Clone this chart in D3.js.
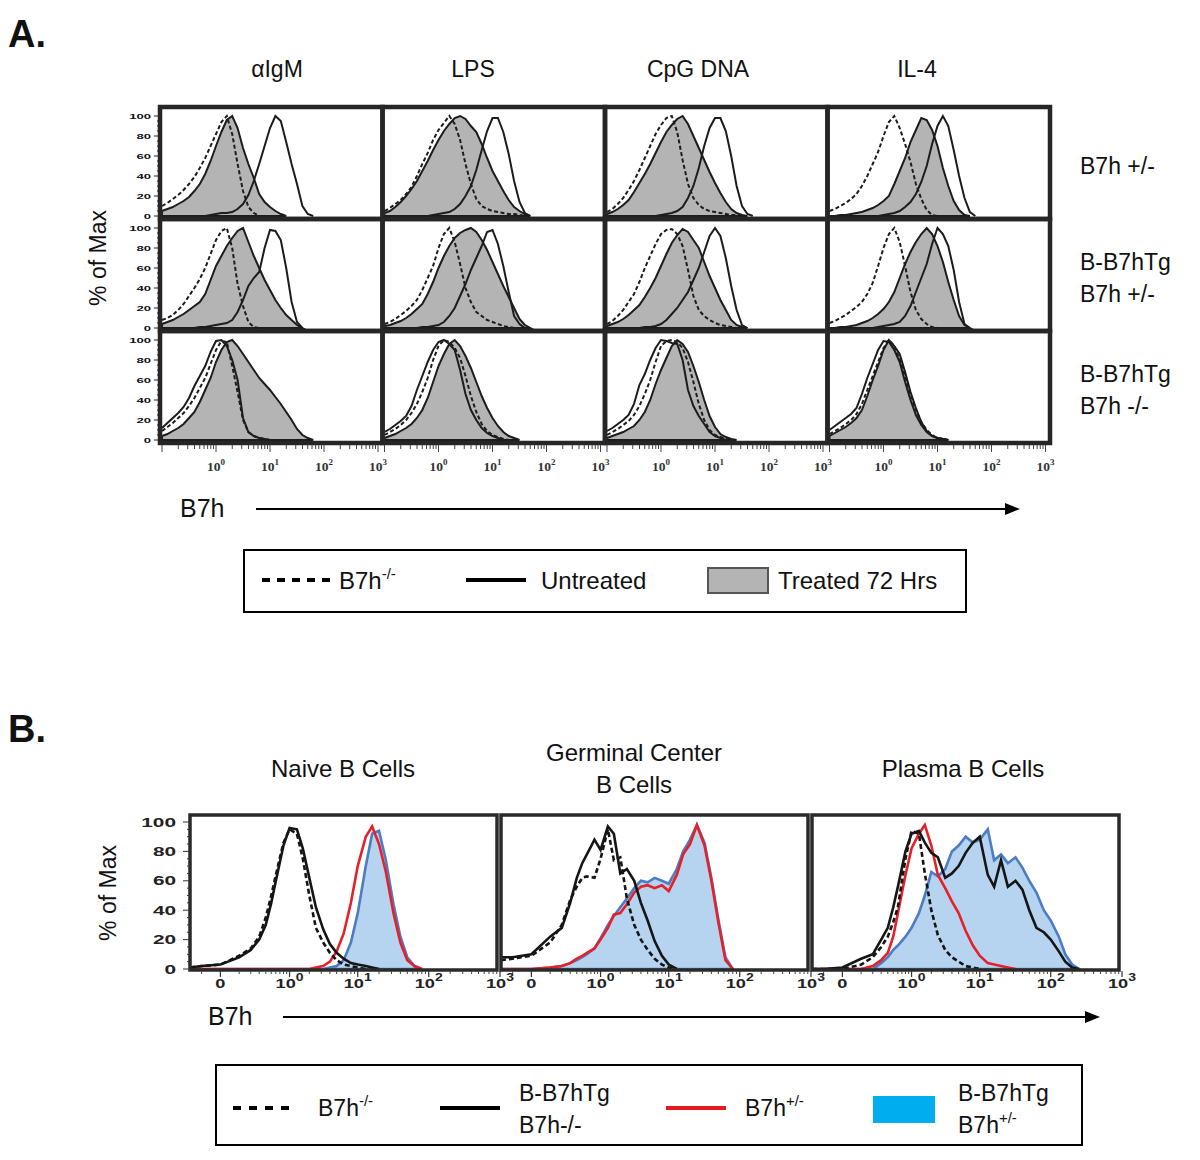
<!DOCTYPE html>
<html><head><meta charset="utf-8">
<script src="https://cdn.jsdelivr.net/npm/d3@7"></script>
<style>
body{margin:0;background:#fff}
svg{display:block}
text{font-family:"Liberation Sans",Arial,Helvetica,sans-serif;fill:#111}
</style>
</head><body>
<svg id="c" width="1200" height="1160"></svg>
<script>
// ================= DATA =================
// Panel A: bins are log10(B7h) from 10^-1 to 10^2
const logBinsA = [-1.0,-0.9,-0.8,-0.7,-0.6,-0.5,-0.4,-0.3,-0.2,-0.1,0.0,0.1,0.2,0.3,0.4,0.5,0.6,0.7,0.8,0.9,1.0,1.1,1.2,1.3,1.4,1.5,1.6,1.7,1.8,1.9,2.0];
const stimuli = ["\u03b1IgM","LPS","CpG DNA","IL-4"];
const genotypesA = [["B7h +/-"],["B-B7hTg","B7h +/-"],["B-B7hTg","B7h -/-"]];
const yTicksA = [0,20,40,60,80,100];
const decadeTicks = [1,10,100,1000];
const decadeExp = ["0","1","2","3"];

// Row 1: B7h +/-   (ko = B7h-/- dashed, untr = untreated solid, trt = treated 72 h grey)
const het_aIgM_ko   = [10,13,17,21,26,32,39,48,58,70,82,94,100,82,52,25,9,3,0];
const het_aIgM_untr = [0,0,0,0,0,0,0,0,0,1,2,3,3,4,7,12,21,35,52,70,88,100,95,74,52,32,10,2,0];
const het_aIgM_trt  = [5,7,9,12,15,19,25,32,42,55,70,84,96,100,88,68,52,38,22,14,9,5,2,0];
const het_LPS_ko    = [5,8,12,16,22,29,40,52,63,76,86,93,100,92,76,52,32,17,10,7,5,4,3,2,2,1,0];
const het_LPS_untr  = [0,0,0,0,0,0,0,0,0,1,2,3,4,7,12,20,30,46,66,85,98,98,84,62,35,14,3,0];
const het_LPS_trt   = [3,5,9,14,20,27,35,45,55,66,76,85,92,98,100,97,90,84,72,58,45,35,25,16,9,5,2,0];
const het_CpG_ko    = [4,7,12,18,26,35,46,58,70,82,91,98,100,84,56,32,18,11,7,5,4,3,2,1,1,0];
const het_CpG_untr  = [0,0,0,0,0,0,0,0,0,0,1,2,3,5,9,18,30,48,70,88,98,98,85,60,30,10,2,0];
const het_CpG_trt   = [2,4,7,11,16,24,33,42,52,63,74,84,91,97,100,92,80,68,56,44,33,23,14,7,3,1,0];
const het_IL4_ko    = [5,7,10,13,17,22,30,40,52,64,80,94,100,88,72,54,32,17,6,1,0];
const het_IL4_untr  = [0,0,0,0,0,0,0,0,0,0,1,2,3,5,9,14,22,34,50,72,90,100,90,66,40,18,4,0];
const het_IL4_trt   = [0,0,1,1,2,3,4,6,8,11,15,20,32,45,58,74,86,98,96,86,70,48,30,15,6,1,0];
// Row 2: B-B7hTg B7h +/-
const tgHet_aIgM_ko   = [8,10,13,18,24,32,40,49,60,74,88,97,100,80,44,22,6,1,0];
const tgHet_aIgM_untr = [0,0,0,0,0,0,0,1,1,2,3,4,5,8,16,28,42,50,56,80,98,97,88,60,26,6,0];
const tgHet_aIgM_trt  = [4,6,8,11,14,18,22,26,34,48,62,72,82,90,97,100,86,72,60,48,38,28,20,13,8,3,0];
const tgHet_LPS_ko    = [4,6,9,13,17,22,28,38,50,62,80,94,100,86,64,40,26,16,12,8,6,4,2,1,0];
const tgHet_LPS_untr  = [0,0,0,0,0,0,0,1,1,2,3,6,12,20,32,44,58,70,82,96,98,84,62,36,12,4,0];
const tgHet_LPS_trt   = [2,3,5,7,10,14,19,24,34,46,60,72,82,90,95,98,100,96,88,78,66,54,42,31,20,9,3,0];
const tgHet_CpG_ko    = [4,7,12,18,26,34,46,60,72,84,94,98,99,94,82,58,32,18,12,8,5,3,2,1,0];
const tgHet_CpG_untr  = [0,0,0,0,0,0,0,1,1,2,4,8,14,20,28,36,48,60,76,92,100,92,70,42,18,3,0];
const tgHet_CpG_trt   = [2,4,6,9,13,18,23,31,40,50,62,74,85,93,99,96,88,80,66,52,40,28,18,8,3,1,0];
const tgHet_IL4_ko    = [5,7,10,13,17,21,26,34,45,62,80,94,100,86,62,36,18,9,4,1,0];
const tgHet_IL4_untr  = [0,0,0,0,0,0,0,0,0,1,2,3,4,6,12,22,36,50,64,84,100,94,82,58,26,4,0];
const tgHet_IL4_trt   = [0,0,1,1,2,3,5,7,10,14,19,26,36,50,64,76,86,94,100,94,82,66,46,28,12,3,0];
// Row 3: B-B7hTg B7h -/-
const tgKO_aIgM_ko   = [9,13,17,22,27,34,42,52,62,76,90,99,98,74,48,20,8,4,2,1,0];
const tgKO_aIgM_untr = [12,17,22,27,33,42,54,64,74,88,99,100,94,80,60,22,8,4,2,1,0];
const tgKO_aIgM_trt  = [4,6,9,12,16,22,28,38,50,62,78,90,98,100,94,86,78,70,62,56,50,43,36,28,20,11,5,2,0];
const tgKO_LPS_ko    = [5,8,11,15,20,27,36,48,62,80,94,100,98,92,82,64,44,28,16,9,5,3,1,0];
const tgKO_LPS_untr  = [8,11,15,19,24,34,50,64,78,90,98,100,96,90,70,46,30,20,12,7,4,2,0];
const tgKO_LPS_trt   = [2,4,6,9,12,16,22,30,42,58,74,86,96,100,94,84,72,58,44,32,22,14,8,4,2,0];
const tgKO_CpG_ko    = [5,8,11,15,19,25,34,46,60,78,94,99,100,98,92,78,58,36,20,10,5,3,1,0];
const tgKO_CpG_untr  = [9,12,16,20,25,36,55,66,80,92,100,99,97,96,80,50,34,24,16,8,4,2,0];
const tgKO_CpG_trt   = [2,4,6,8,11,14,20,28,40,56,70,82,94,100,96,88,74,58,40,24,13,6,3,1,0];
const tgKO_IL4_ko    = [6,9,12,16,20,26,36,50,64,78,92,100,94,80,64,46,30,18,10,5,2,1,0];
const tgKO_IL4_untr  = [10,14,18,22,26,32,46,62,76,90,99,98,90,78,58,40,25,15,8,4,2,1,0];
const tgKO_IL4_trt   = [4,7,10,13,17,22,30,44,60,74,90,100,94,86,68,48,32,18,9,4,2,1,0];

// Panel B: bin positions in B7h fluorescence units (biexponential axis)
const binsB = [-0.2,-0.1,0,0.1,0.2,0.3,0.4,0.5,0.6,0.8,1,1.3,1.6,2,2.5,3.2,4,5,6.3,8,10,13,16,20,25,32,40,50,63,80,100,130,160,200,250,320,400];
const subsetsB = [["Naive B Cells"],["Germinal Center","B Cells"],["Plasma B Cells"]];
const xTickValsB = [0,1,10,100,1000];
const xTickLabB = [["0",""],["10","0"],["10","1"],["10","2"],["10","3"]];
// ko = B7h-/- (dashed), tgKO = B-B7hTg B7h-/- (black), het = B7h+/- (red), tgHet = B-B7hTg B7h+/- (blue fill)
const naive_ko    = [1,2,3,9,14,22,35,50,64,86,95,92,75,50,28,18,11,6,3,2,1,0];
const naive_tgKO  = [1,2,3,8,13,20,30,45,60,84,96,95,82,62,42,27,17,11,7,4,3,2,1,0];
const naive_het   = [0,0,0,0,0,0,0,0,0,0,0,0,0,0,1,2,5,12,24,45,70,90,97,85,66,38,18,6,2,0];
const naive_tgHet = [0,0,0,0,0,0,0,0,0,0,0,0,0,0,0,0,1,2,6,18,38,70,92,94,74,44,22,8,2,0];
const gc_ko    = [6,7,9,18,30,47,56,62,63,62,75,95,74,76,48,30,20,13,7,3,1,0];
const gc_tgKO  = [8,8,10,22,28,45,62,72,78,88,81,97,92,65,68,60,45,33,19,9,3,0];
const gc_het   = [0,0,0,1,2,4,7,9,11,14,20,28,37,38,44,52,56,57,55,57,53,64,78,85,98,84,60,32,6,0];
const gc_tgHet = [0,0,0,1,2,4,6,8,10,14,21,30,36,42,48,55,60,59,62,60,58,68,80,88,98,86,62,34,8,0];
const pc_ko    = [0,0,0,3,8,15,22,32,42,75,94,92,65,40,23,13,8,5,2,1,0];
const pc_tgKO  = [0,0,1,7,10,20,28,42,56,80,92,94,86,79,76,62,65,70,79,86,90,64,56,74,56,60,54,40,28,25,20,12,5,1,0];
const pc_het   = [0,0,0,0,2,6,11,22,38,64,82,92,98,84,64,55,46,38,26,16,9,4,3,2,1,0];
const pc_tgHet = [0,0,0,0,0,4,8,13,16,22,28,38,50,66,63,68,80,84,90,86,88,95,74,78,72,76,69,60,52,40,33,22,10,3,0];

// ================= LAYOUT =================
const titleXA = [277, 473, 698, 917];
const titleXB = [343, 634, 963];

// ================= DRAWING =================
const svg = d3.select("#c");
const defs = svg.append("defs");
const INK = "#1c1c1c";

function sup(sel, x, y, base, exp, size, expSize, dy, anchor, extra) {
  const t = sel.append("text").attr("x", x).attr("y", y).attr("font-size", size)
    .attr("text-anchor", anchor || "start");
  if (extra) extra(t);
  t.append("tspan").text(base);
  if (exp) t.append("tspan").attr("font-size", expSize).attr("dy", dy).text(exp);
  return t;
}

// ---------- Panel A ----------
const AX0 = 160, AY0 = 107, ACW = 222.5, ARH = 112;
const panelA = [
  [[het_aIgM_trt,het_aIgM_untr,het_aIgM_ko],[het_LPS_trt,het_LPS_untr,het_LPS_ko],[het_CpG_trt,het_CpG_untr,het_CpG_ko],[het_IL4_trt,het_IL4_untr,het_IL4_ko]],
  [[tgHet_aIgM_trt,tgHet_aIgM_untr,tgHet_aIgM_ko],[tgHet_LPS_trt,tgHet_LPS_untr,tgHet_LPS_ko],[tgHet_CpG_trt,tgHet_CpG_untr,tgHet_CpG_ko],[tgHet_IL4_trt,tgHet_IL4_untr,tgHet_IL4_ko]],
  [[tgKO_aIgM_trt,tgKO_aIgM_untr,tgKO_aIgM_ko],[tgKO_LPS_trt,tgKO_LPS_untr,tgKO_LPS_ko],[tgKO_CpG_trt,tgKO_CpG_untr,tgKO_CpG_ko],[tgKO_IL4_trt,tgKO_IL4_untr,tgKO_IL4_ko]]
];
const gA = svg.append("g");
const xScalesA = [];
for (let c = 0; c < 4; c++) {
  const x0 = AX0 + c * ACW;
  xScalesA.push(d3.scaleLog().domain([0.1, 1000]).range([x0 + 2, x0 + 218]));
}
for (let r = 0; r < 3; r++) {
  const y0 = AY0 + r * ARH;
  const y = d3.scaleLinear().domain([0, 100]).range([y0 + 109, y0 + 9]);
  for (let c = 0; c < 4; c++) {
    const x0 = AX0 + c * ACW;
    const x = xScalesA[c];
    const id = `clipA${r}${c}`;
    defs.append("clipPath").attr("id", id).append("rect")
      .attr("x", x0).attr("y", y0).attr("width", ACW).attr("height", ARH);
    const g = gA.append("g").attr("clip-path", `url(#${id})`);
    const xi = i => x(Math.pow(10, logBinsA[i]));
    const area = d3.area().x((d, i) => xi(i)).y0(y(0)).y1(d => y(d));
    const line = d3.line().x((d, i) => xi(i)).y(d => y(d));
    const [trt, untr, ko] = panelA[r][c];
    g.append("path").attr("d", area(trt)).attr("fill", "#b4b4b4").attr("stroke", INK).attr("stroke-width", 2);
    g.append("path").attr("d", line(untr)).attr("fill", "none").attr("stroke", INK).attr("stroke-width", 2);
    g.append("path").attr("d", line(ko)).attr("fill", "none").attr("stroke", INK).attr("stroke-width", 2).attr("stroke-dasharray", "4,2.5");
  }
  // y axis of row
  y.ticks(20).forEach(v => {
    const len = v % 20 === 0 ? 6 : 3;
    gA.append("line").attr("x1", AX0 - len).attr("x2", AX0).attr("y1", y(v)).attr("y2", y(v)).attr("stroke", INK).attr("stroke-width", 1);
  });
  yTicksA.forEach(v => {
    gA.append("g").attr("transform", `translate(151,${y(v) + 2.5}) scale(1.75,1)`)
      .append("text").attr("text-anchor", "end").attr("font-size", 7.5).attr("font-weight", "bold").text(v);
  });
}
// frames A
for (let r = 0; r < 3; r++) for (let c = 0; c < 4; c++) {
  gA.append("rect").attr("x", AX0 + c * ACW).attr("y", AY0 + r * ARH).attr("width", ACW).attr("height", ARH)
    .attr("fill", "none").attr("stroke", "#262626").attr("stroke-width", 4.5);
}
// x axes A
const axisYA = AY0 + 3 * ARH + 2;
xScalesA.forEach(x => {
  x.ticks().forEach(v => {
    const major = decadeTicks.includes(v) || v === 0.1;
    gA.append("line").attr("x1", x(v)).attr("x2", x(v)).attr("y1", axisYA).attr("y2", axisYA + (major ? 7 : 4))
      .attr("stroke", "#444").attr("stroke-width", 1);
  });
  decadeTicks.forEach((v, i) => {
    sup(gA, x(v), axisYA + 26, "10", decadeExp[i], 13.5, 9, -6, "middle",
      t => t.style("font-family", "'Liberation Serif','Times New Roman',serif").attr("font-weight", "bold").style("fill", "#333"));
  });
});
// titles A
stimuli.forEach((s, c) => {
  svg.append("text").attr("x", titleXA[c]).attr("y", 77).attr("text-anchor", "middle").attr("font-size", 23).text(s);
});
genotypesA.forEach((lines, r) => {
  const cy = AY0 + r * ARH + ARH / 2 + 3;
  lines.forEach((l, k) => {
    const yy = cy + (k - (lines.length - 1) / 2) * 32 + 8;
    svg.append("text").attr("x", 1080).attr("y", yy).attr("font-size", 23).text(l);
  });
});
svg.append("text").attr("transform", "translate(106,258) rotate(-90)").attr("text-anchor", "middle").attr("font-size", 23).text("% of Max");
svg.append("text").attr("x", 8).attr("y", 47).attr("font-size", 38).attr("font-weight", "bold").text("A.");
svg.append("text").attr("x", 180).attr("y", 517).attr("font-size", 25).text("B7h");
function arrow(x1, x2, yy) {
  svg.append("line").attr("x1", x1).attr("x2", x2 - 10).attr("y1", yy).attr("y2", yy).attr("stroke", "#000").attr("stroke-width", 2);
  svg.append("path").attr("d", `M${x2 - 15},${yy - 6}L${x2},${yy}L${x2 - 15},${yy + 6}Z`).attr("fill", "#000");
}
arrow(256, 1020, 509);

// legend A
const lgA = svg.append("g");
lgA.append("rect").attr("x", 244).attr("y", 550).attr("width", 722).attr("height", 62).attr("fill", "#fff").attr("stroke", "#000").attr("stroke-width", 2);
lgA.append("line").attr("x1", 262).attr("x2", 330).attr("y1", 580).attr("y2", 580).attr("stroke", "#000").attr("stroke-width", 4).attr("stroke-dasharray", "8,7");
sup(lgA, 339, 589, "B7h", "-/-", 24, 15, -10, "start");
lgA.append("line").attr("x1", 466).attr("x2", 526).attr("y1", 580).attr("y2", 580).attr("stroke", "#000").attr("stroke-width", 4);
lgA.append("text").attr("x", 541).attr("y", 589).attr("font-size", 24).text("Untreated");
lgA.append("rect").attr("x", 708).attr("y", 568).attr("width", 60).attr("height", 25).attr("fill", "#b4b4b4").attr("stroke", "#555").attr("stroke-width", 2);
lgA.append("text").attr("x", 778).attr("y", 589).attr("font-size", 24).text("Treated 72 Hrs");

// ---------- Panel B ----------
const BX0 = 190, BSTEP = 311, BW = 307, BTOP = 815, BBOT = 970;
const panelB = [
  [naive_tgHet, naive_het, naive_tgKO, naive_ko],
  [gc_tgHet, gc_het, gc_tgKO, gc_ko],
  [pc_tgHet, pc_het, pc_tgKO, pc_ko]
];
const gB = svg.append("g");
const yB = d3.scaleLinear().domain([0, 100]).range([969, 822]);
panelB.forEach((curves, i) => {
  const x0 = BX0 + i * BSTEP;
  const x = d3.scaleSymlog().constant(0.12).domain([-0.2, 1000]).range([x0, x0 + 310]);
  const id = `clipB${i}`;
  defs.append("clipPath").attr("id", id).append("rect").attr("x", x0).attr("y", BTOP).attr("width", BW).attr("height", BBOT - BTOP);
  const g = gB.append("g").attr("clip-path", `url(#${id})`);
  const area = d3.area().x((d, k) => x(binsB[k])).y0(yB(0)).y1(d => yB(d));
  const line = d3.line().x((d, k) => x(binsB[k])).y(d => yB(d));
  const [tgHet, het, tgKO, ko] = curves;
  g.append("path").attr("d", area(tgHet)).attr("fill", "#b6d4ef").attr("stroke", "#4d7cc4").attr("stroke-width", 2.6);
  g.append("path").attr("d", line(het)).attr("fill", "none").attr("stroke", "#e62028").attr("stroke-width", 2.6);
  g.append("path").attr("d", line(tgKO)).attr("fill", "none").attr("stroke", "#151515").attr("stroke-width", 2.6);
  g.append("path").attr("d", line(ko)).attr("fill", "none").attr("stroke", "#151515").attr("stroke-width", 2.6).attr("stroke-dasharray", "5,3");
  // frame
  gB.append("rect").attr("x", x0).attr("y", BTOP).attr("width", BW).attr("height", BBOT - BTOP)
    .attr("fill", "none").attr("stroke", "#2a2a2a").attr("stroke-width", 3.5);
  // x ticks
  const minor = [];
  [0.1, 1, 10, 100].forEach(d => { for (let k = 2; k <= 9; k++) minor.push(k * d); });
  minor.concat([-0.1, 0.1]).forEach(v => {
    gB.append("line").attr("x1", x(v)).attr("x2", x(v)).attr("y1", BBOT + 1).attr("y2", BBOT + 4).attr("stroke", "#444").attr("stroke-width", 1);
  });
  xTickValsB.forEach((v, k) => {
    gB.append("line").attr("x1", x(v)).attr("x2", x(v)).attr("y1", BBOT + 1).attr("y2", BBOT + 7).attr("stroke", "#333").attr("stroke-width", 1.2);
    const gl = gB.append("g").attr("transform", `translate(${x(v)},988) scale(1.4,1)`);
    sup(gl, 0, 0, xTickLabB[k][0], xTickLabB[k][1], 13, 10, -7, "middle", t => t.attr("font-weight", "bold").style("fill", "#222"));
  });
});
// y axis B
yB.ticks(25).forEach(v => {
  const len = v % 20 === 0 ? 7 : 3;
  gB.append("line").attr("x1", BX0 - len).attr("x2", BX0).attr("y1", yB(v)).attr("y2", yB(v)).attr("stroke", "#333").attr("stroke-width", 1);
});
yTicksA.forEach(v => {
  gB.append("g").attr("transform", `translate(176,${yB(v) + 4.5}) scale(1.6,1)`)
    .append("text").attr("text-anchor", "end").attr("font-size", 13).attr("font-weight", "bold").style("fill", "#222").text(v);
});
// titles B
subsetsB.forEach((lines, i) => {
  lines.forEach((l, k) => {
    const yy = 777 + (k - (lines.length - 1) / 2) * 32;
    svg.append("text").attr("x", titleXB[i]).attr("y", yy).attr("text-anchor", "middle").attr("font-size", 24).text(l);
  });
});
svg.append("text").attr("transform", "translate(116,893) rotate(-90)").attr("text-anchor", "middle").attr("font-size", 23).text("% of Max");
svg.append("text").attr("x", 8).attr("y", 742).attr("font-size", 38).attr("font-weight", "bold").text("B.");
svg.append("text").attr("x", 208).attr("y", 1025).attr("font-size", 25).text("B7h");
arrow(283, 1100, 1017);

// legend B
const lgB = svg.append("g");
lgB.append("rect").attr("x", 216).attr("y", 1065).attr("width", 866).attr("height", 80).attr("fill", "#fff").attr("stroke", "#000").attr("stroke-width", 2);
lgB.append("line").attr("x1", 233).attr("x2", 297).attr("y1", 1108).attr("y2", 1108).attr("stroke", "#000").attr("stroke-width", 4).attr("stroke-dasharray", "8,8");
sup(lgB, 318, 1116, "B7h", "-/-", 23, 15, -10, "start");
lgB.append("line").attr("x1", 440).attr("x2", 500).attr("y1", 1108).attr("y2", 1108).attr("stroke", "#000").attr("stroke-width", 4);
lgB.append("text").attr("x", 519).attr("y", 1101).attr("font-size", 23).text("B-B7hTg");
lgB.append("text").attr("x", 519).attr("y", 1133).attr("font-size", 23).text("B7h-/-");
lgB.append("line").attr("x1", 666).attr("x2", 726).attr("y1", 1108).attr("y2", 1108).attr("stroke", "#e41a1c").attr("stroke-width", 4);
sup(lgB, 745, 1116, "B7h", "+/-", 23, 15, -10, "start");
lgB.append("rect").attr("x", 873).attr("y", 1096).attr("width", 62).attr("height", 27).attr("fill", "#00aeef");
lgB.append("text").attr("x", 958).attr("y", 1101).attr("font-size", 23).text("B-B7hTg");
sup(lgB, 958, 1133, "B7h", "+/-", 23, 15, -10, "start");
</script>
</body></html>
